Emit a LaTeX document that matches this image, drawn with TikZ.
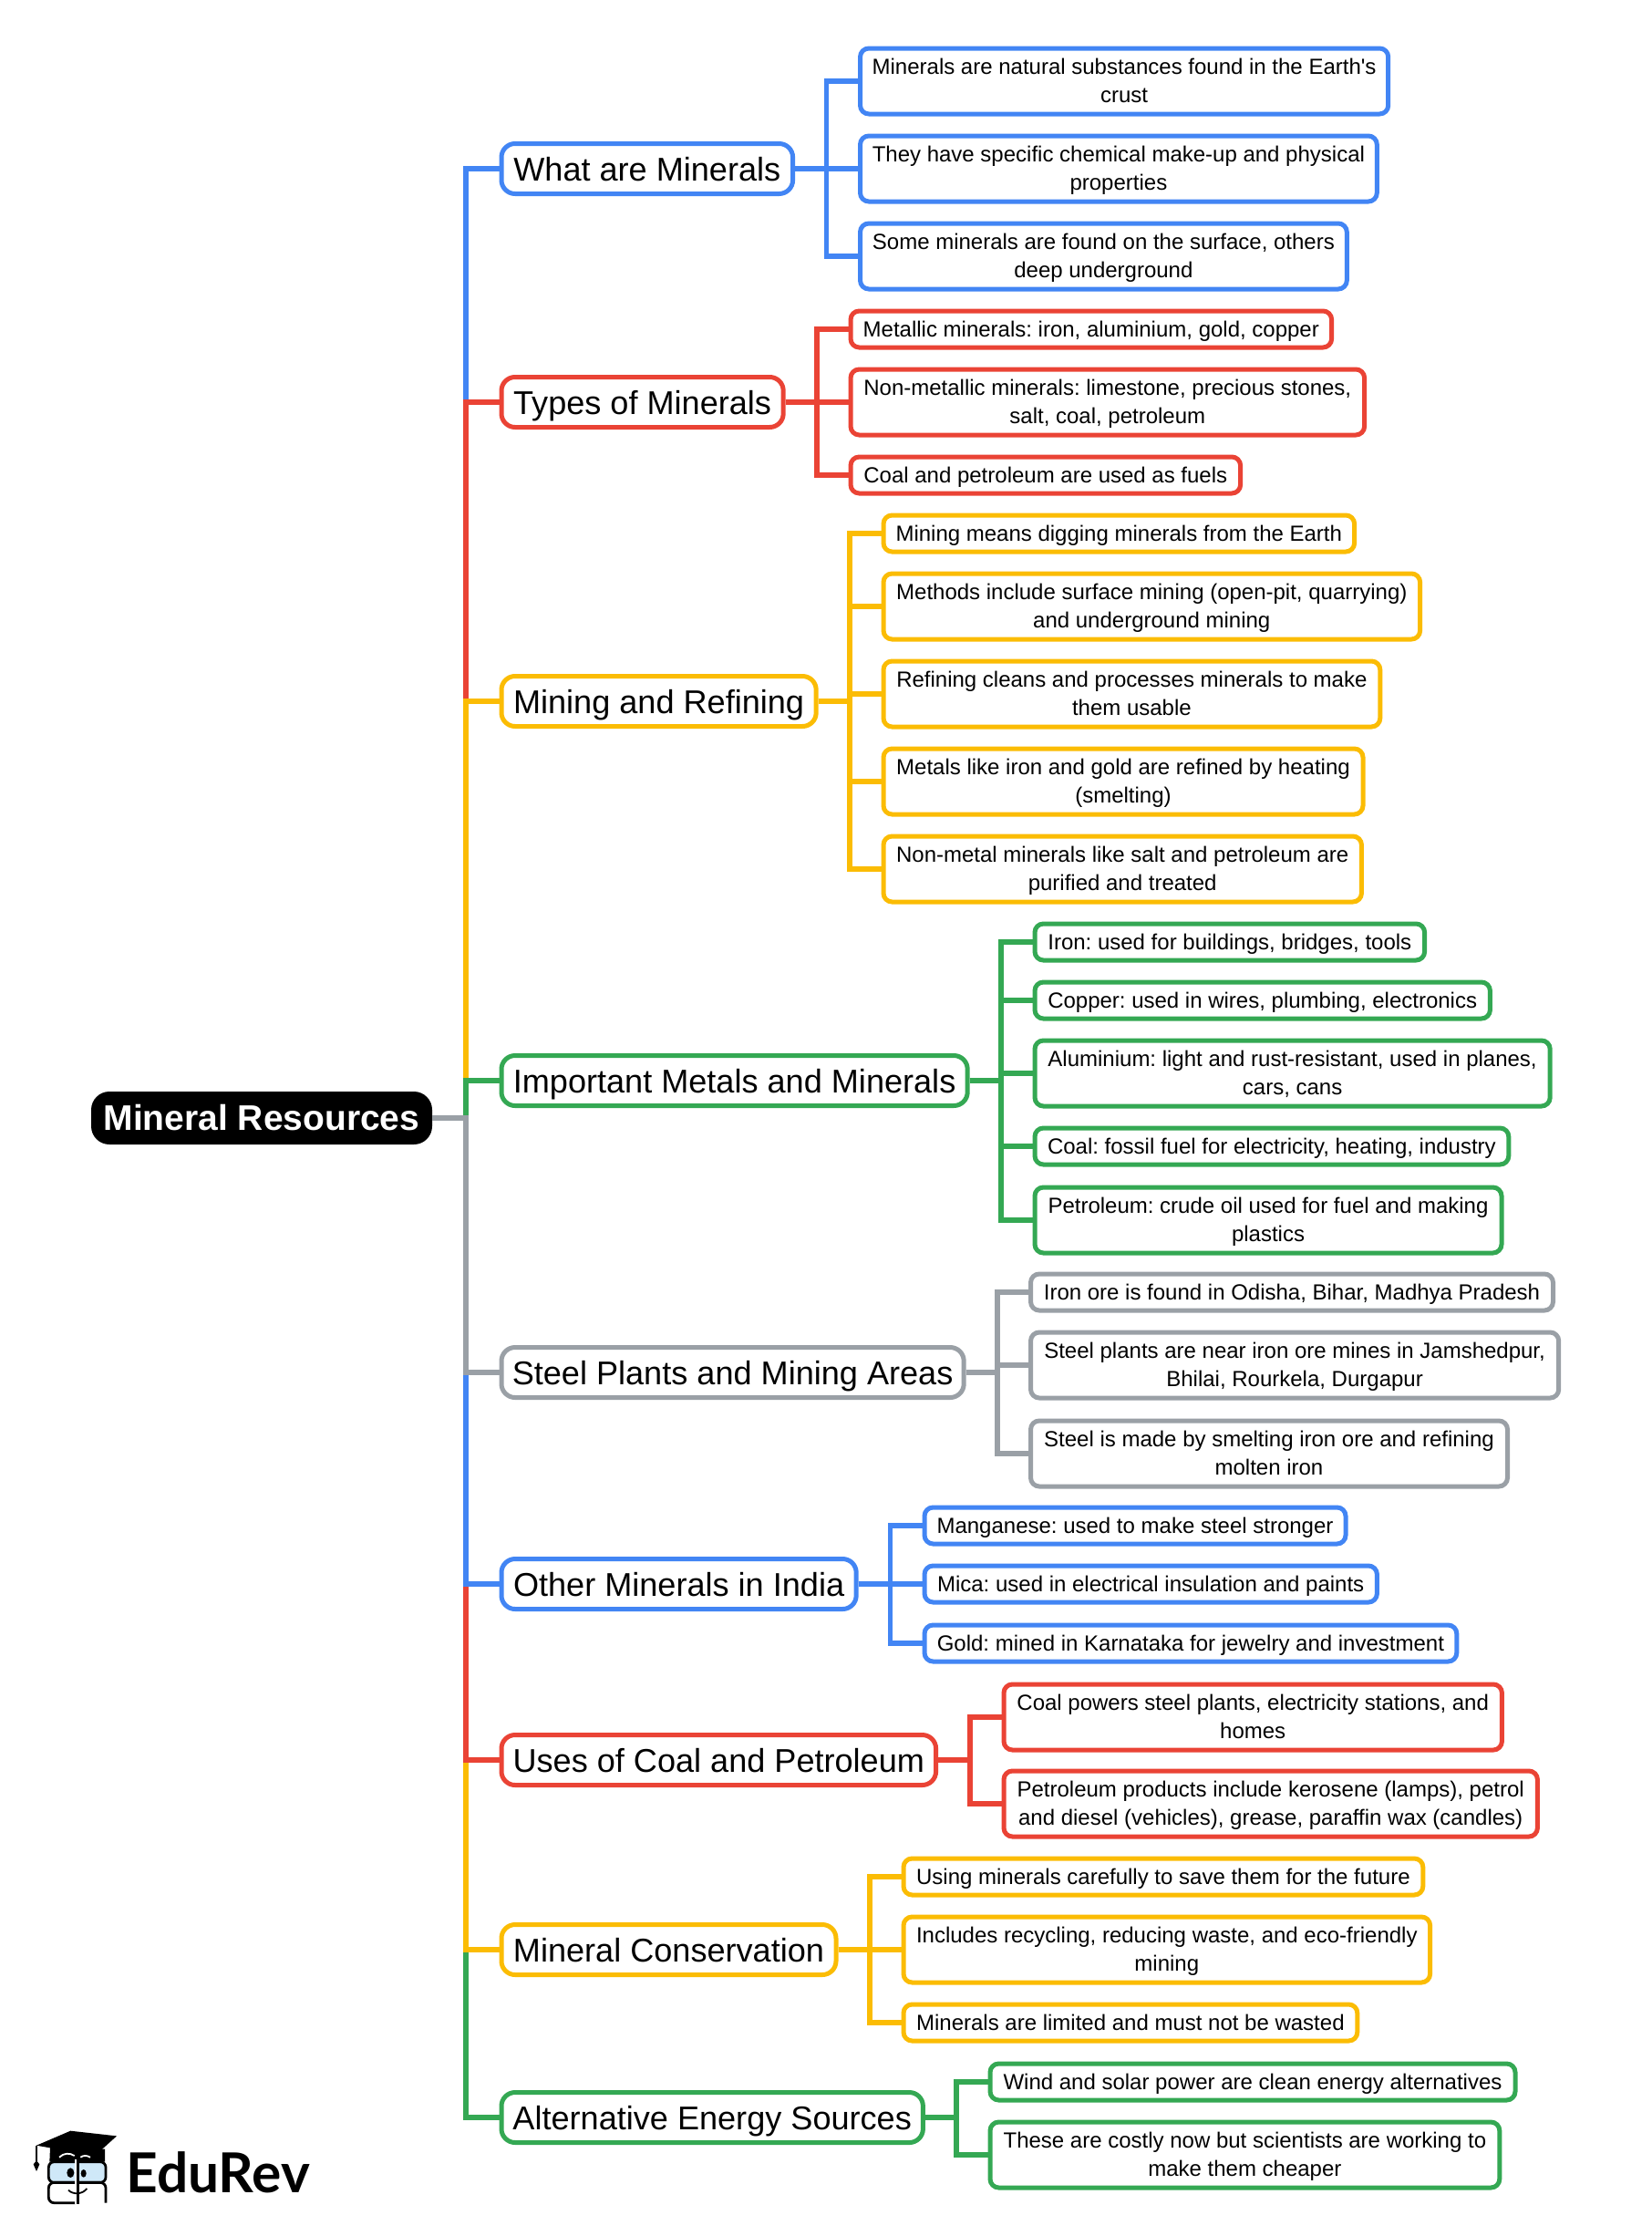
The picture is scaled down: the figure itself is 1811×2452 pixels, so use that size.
\documentclass[tikz,border=0pt]{standalone}
\usepackage{fontspec}
\setmainfont{Liberation Sans}
\newfontfamily\logofont{Lato}
\usetikzlibrary{calc}
\definecolor{blue_c}{HTML}{4285F4}
\definecolor{red_c}{HTML}{EA4335}
\definecolor{yellow_c}{HTML}{FBBC04}
\definecolor{green_c}{HTML}{34A853}
\definecolor{gray_c}{HTML}{9AA0A6}
\definecolor{face_c}{HTML}{CFE8F8}
\frenchspacing
\begin{document}
\begin{tikzpicture}[x=0.5pt,y=-0.5pt,
	root_node/.style={rounded corners=10pt,fill=black,text=white,font=\fontsize{19.5}{23}\selectfont\bfseries,anchor=west,inner sep=0pt,outer sep=0pt,minimum width=187pt,minimum height=29pt},
	topic_node/.style={rounded corners=7.5pt,draw=#1,line width=2.5pt,font=\fontsize{18.05}{22}\selectfont,anchor=west,inner sep=0pt,minimum height=27.5pt,text height=13.5pt,text depth=0.3pt},
	leaf_node/.style={rounded corners=4.75pt,draw=#1,line width=2.5pt,font=\fontsize{12}{15.6}\selectfont,align=center,anchor=west,inner sep=0pt,minimum height=20pt,text height=10pt,text depth=2pt},
	leaf_tall/.style={leaf_node=#1,minimum height=36pt,text height=25.8pt,text depth=2pt},
	elbow/.style={line width=2.75pt,draw=#1,to path={-| ($(\tikztostart)!.5!(\tikztotarget)$) |- (\tikztotarget)}}]

	\useasboundingbox (0,0) rectangle (1811,2452);

	\node[root_node] (root) at (100,1226) {Mineral Resources};

	% first level
	\node[topic_node=blue_c,minimum width=159.8pt] (what) at (547.5,185) {What are Minerals};
	\node[topic_node=red_c,minimum width=154.6pt] (types) at (547.5,441) {Types of Minerals};
	\node[topic_node=yellow_c,minimum width=172.6pt] (mining) at (547.5,769) {Mining and Refining};
	\node[topic_node=green_c,minimum width=255.6pt] (metals) at (547.5,1185) {Important Metals and Minerals};
	\node[topic_node=gray_c,minimum width=253.6pt] (steel) at (547.5,1505) {Steel Plants and Mining Areas};
	\node[topic_node=blue_c,minimum width=194.6pt] (other) at (547.5,1737) {Other Minerals in India};
	\node[topic_node=red_c,minimum width=238.3pt] (uses) at (547.5,1930) {Uses of Coal and Petroleum};
	\node[topic_node=yellow_c,minimum width=183.5pt] (save) at (547.5,2138) {Mineral Conservation};
	\node[topic_node=green_c,minimum width=231.2pt] (energy) at (547.5,2322) {Alternative Energy Sources};

	% second level
	\node[leaf_tall=blue_c,minimum width=289.6pt] (what_1) at (941,89) {Minerals are natural substances found in the Earth\textquotesingle s\\crust};
	\node[leaf_tall=blue_c,minimum width=283.4pt] (what_2) at (941,185) {They have specific chemical make-up and physical\\properties};
	\node[leaf_tall=blue_c,minimum width=266.9pt] (what_3) at (941,281) {Some minerals are found on the surface, others\\deep underground};

	\node[leaf_node=red_c,minimum width=263.8pt] (types_1) at (930.5,361) {Metallic minerals: iron, aluminium, gold, copper};
	\node[leaf_tall=red_c,minimum width=281.8pt] (types_2) at (930.5,441) {Non-metallic minerals: limestone, precious stones,\\salt, coal, petroleum};
	\node[leaf_node=red_c,minimum width=213.8pt] (types_3) at (930.5,521) {Coal and petroleum are used as fuels};

	\node[leaf_node=yellow_c,minimum width=258.3pt] (mining_1) at (966.5,585) {Mining means digging minerals from the Earth};
	\node[leaf_tall=yellow_c,minimum width=294.3pt] (mining_2) at (966.5,665) {Methods include surface mining (open-pit, quarrying)\\and underground mining};
	\node[leaf_tall=yellow_c,minimum width=272.4pt] (mining_3) at (966.5,761) {Refining cleans and processes minerals to make\\them usable};
	\node[leaf_tall=yellow_c,minimum width=263pt] (mining_4) at (966.5,857) {Metals like iron and gold are refined by heating\\(smelting)};
	\node[leaf_tall=yellow_c,minimum width=262.2pt] (mining_5) at (966.5,953) {Non-metal minerals like salt and petroleum are\\purified and treated};

	\node[leaf_node=green_c,minimum width=213.8pt] (metals_1) at (1132.5,1033) {Iron: used for buildings, bridges, tools};
	\node[leaf_node=green_c,minimum width=249.7pt] (metals_2) at (1132.5,1097) {Copper: used in wires, plumbing, electronics};
	\node[leaf_tall=green_c,minimum width=282.6pt] (metals_3) at (1132.5,1177) {Aluminium: light and rust-resistant, used in planes,\\cars, cans};
	\node[leaf_node=green_c,minimum width=259.9pt] (metals_4) at (1132.5,1257) {Coal: fossil fuel for electricity, heating, industry};
	\node[leaf_tall=green_c,minimum width=256pt] (metals_5) at (1132.5,1338) {Petroleum: crude oil used for fuel and making\\plastics};

	\node[leaf_node=gray_c,minimum width=286.5pt] (steel_1) at (1128,1417) {Iron ore is found in Odisha, Bihar, Madhya Pradesh};
	\node[leaf_tall=gray_c,minimum width=289.6pt] (steel_2) at (1128,1497) {Steel plants are near iron ore mines in Jamshedpur,\\Bhilai, Rourkela, Durgapur};
	\node[leaf_tall=gray_c,minimum width=261.5pt] (steel_3) at (1128,1594) {Steel is made by smelting iron ore and refining\\molten iron};

	\node[leaf_node=blue_c,minimum width=231pt] (other_1) at (1011.5,1673) {Manganese: used to make steel stronger};
	\node[leaf_node=blue_c,minimum width=248.2pt] (other_2) at (1011.5,1737) {Mica: used in electrical insulation and paints};
	\node[leaf_node=blue_c,minimum width=291.9pt] (other_3) at (1011.5,1802) {Gold: mined in Karnataka for jewelry and investment};

	\node[leaf_tall=red_c,minimum width=273.2pt] (uses_1) at (1098.5,1883) {Coal powers steel plants, electricity stations, and\\homes};
	\node[leaf_tall=red_c,minimum width=292.7pt] (uses_2) at (1098.5,1978) {Petroleum products include kerosene (lamps), petrol\\and diesel (vehicles), grease, paraffin wax (candles)};

	\node[leaf_node=yellow_c,minimum width=284.9pt] (save_1) at (988.5,2058) {Using minerals carefully to save them for the future};
	\node[leaf_tall=yellow_c,minimum width=288.8pt] (save_2) at (988.5,2138) {Includes recycling, reducing waste, and eco-friendly\\mining};
	\node[leaf_node=yellow_c,minimum width=248.9pt] (save_3) at (988.5,2218) {Minerals are limited and must not be wasted};

	\node[leaf_node=green_c,minimum width=288pt] (energy_1) at (1083.5,2283) {Wind and solar power are clean energy alternatives};
	\node[leaf_tall=green_c,minimum width=279.4pt] (energy_2) at (1083.5,2363) {These are costly now but scientists are working to\\make them cheaper};

	% spine, far branches first
	\draw[elbow=blue_c] (root.east) to (what.west);
	\draw[elbow=green_c] (root.east) to (energy.west);
	\draw[elbow=red_c] (root.east) to (types.west);
	\draw[elbow=yellow_c] (root.east) to (save.west);
	\draw[elbow=yellow_c] (root.east) to (mining.west);
	\draw[elbow=red_c] (root.east) to (uses.west);
	\draw[elbow=green_c] (root.east) to (metals.west);
	\draw[elbow=blue_c] (root.east) to (other.west);
	\draw[elbow=gray_c] (root.east) to (steel.west);

	\draw[elbow=blue_c] (what.east) to (what_1.west);
	\draw[elbow=blue_c] (what.east) to (what_2.west);
	\draw[elbow=blue_c] (what.east) to (what_3.west);

	\draw[elbow=red_c] (types.east) to (types_1.west);
	\draw[elbow=red_c] (types.east) to (types_2.west);
	\draw[elbow=red_c] (types.east) to (types_3.west);

	\draw[elbow=yellow_c] (mining.east) to (mining_1.west);
	\draw[elbow=yellow_c] (mining.east) to (mining_2.west);
	\draw[elbow=yellow_c] (mining.east) to (mining_3.west);
	\draw[elbow=yellow_c] (mining.east) to (mining_4.west);
	\draw[elbow=yellow_c] (mining.east) to (mining_5.west);

	\draw[elbow=green_c] (metals.east) to (metals_1.west);
	\draw[elbow=green_c] (metals.east) to (metals_2.west);
	\draw[elbow=green_c] (metals.east) to (metals_3.west);
	\draw[elbow=green_c] (metals.east) to (metals_4.west);
	\draw[elbow=green_c] (metals.east) to (metals_5.west);

	\draw[elbow=gray_c] (steel.east) to (steel_1.west);
	\draw[elbow=gray_c] (steel.east) to (steel_2.west);
	\draw[elbow=gray_c] (steel.east) to (steel_3.west);

	\draw[elbow=blue_c] (other.east) to (other_1.west);
	\draw[elbow=blue_c] (other.east) to (other_2.west);
	\draw[elbow=blue_c] (other.east) to (other_3.west);

	\draw[elbow=red_c] (uses.east) to (uses_1.west);
	\draw[elbow=red_c] (uses.east) to (uses_2.west);

	\draw[elbow=yellow_c] (save.east) to (save_1.west);
	\draw[elbow=yellow_c] (save.east) to (save_2.west);
	\draw[elbow=yellow_c] (save.east) to (save_3.west);

	\draw[elbow=green_c] (energy.east) to (energy_1.west);
	\draw[elbow=green_c] (energy.east) to (energy_2.west);

	% logo
	\node[anchor=base west,inner sep=0pt,font=\logofont\fontsize{30.2}{30}\selectfont\bfseries] (brand) at (138,2404) {EduRev};
	\begin{scope}[shift={(0,2300)},x=0.1667pt,y=-0.1667pt]
		\fill (165,165) -- (163,212) -- (345,212) -- (345,170) -- cycle;
		\draw[line width=1.4pt,fill=face_c,rounded corners=3pt] (160,212) rectangle (348,280);
		\draw[line width=1.4pt,rounded corners=3pt] (248,347) -- (160,347) -- (160,280) -- (348,280) -- (348,347);
		\draw[line width=1.8pt,white] (250,205) -- (250,350);
		\draw[line width=1.2pt] (256,205) -- (256,350);
		\fill (120,158) -- (232,110) -- (384,127) -- (312,192) -- cycle;
		\draw[line width=0.9pt] (120,158) -- (120,215);
		\fill (120,243) -- (110,220) -- (120,208) -- (130,220) -- cycle;
		\fill (232,248) ellipse [x radius=12,y radius=16];
		\fill (275,250) ellipse [x radius=9,y radius=13];
		\draw[line width=0.9pt,white] (195,197) .. controls (210,182) and (230,182) .. (245,192);
		\draw[line width=0.9pt,white] (265,197) .. controls (275,190) and (285,190) .. (297,197);
		\draw[line width=0.9pt] (225,305) .. controls (240,320) and (270,320) .. (286,300);
	\end{scope}
\end{tikzpicture}
\end{document}
